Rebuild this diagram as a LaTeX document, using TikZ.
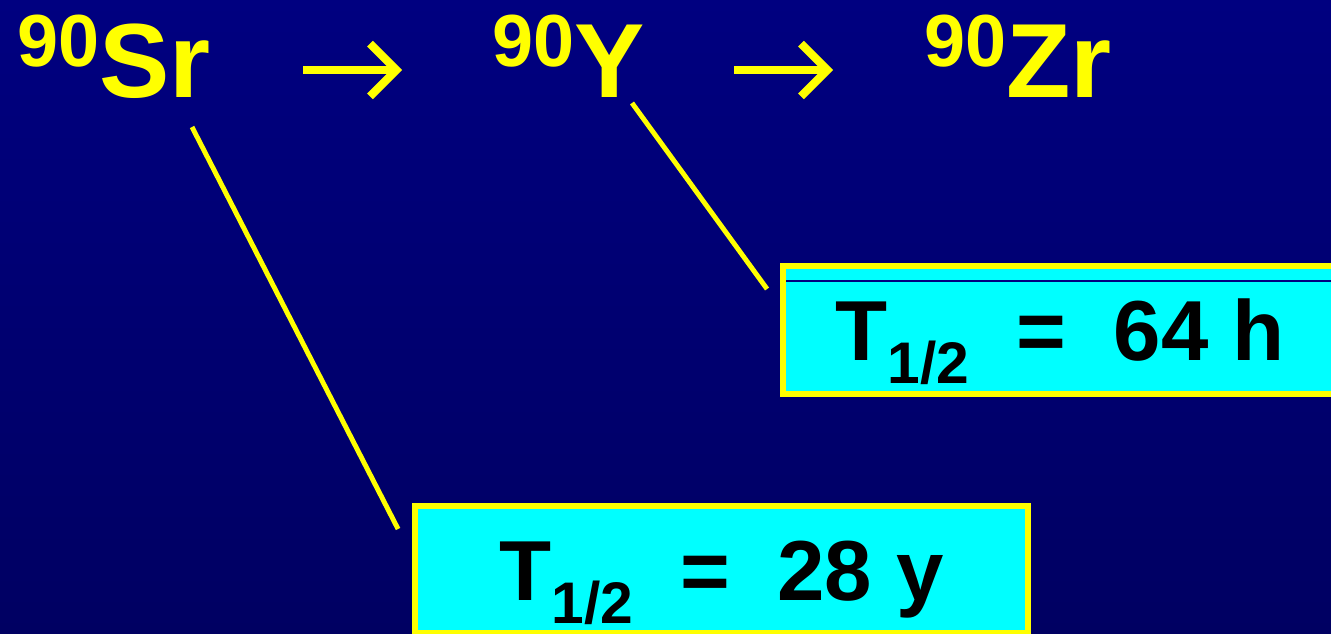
\documentclass[tikz,border=0pt]{standalone}
\usepackage{fontspec}
\setmainfont{Liberation Sans}
\usepackage{tikz}
\usetikzlibrary{arrows.meta}
\definecolor{slidebg}{RGB}{0,0,128}
\definecolor{slidebgdark}{RGB}{0,0,98}
\definecolor{labelyellow}{RGB}{255,255,0}
\definecolor{boxcyan}{RGB}{0,255,255}
\newcommand{\nuc}[2]{{\fontsize{42pt}{42pt}\selectfont\raisebox{17.5pt}{#1}}#2}
\newcommand{\halflife}[1]{T\raisebox{-13pt}{\fontsize{33.4pt}{34pt}\selectfont 1/2}~~=~~#1}

\begin{document}
\begin{tikzpicture}[x=0.02cm, y=-0.02cm,
  nuclide/.style={anchor=base west, inner sep=0pt, text=labelyellow, font=\fontsize{60pt}{60pt}\selectfont\bfseries},
  decay/.style={draw=labelyellow, line width=4.6pt, -{Straight Barb[length=15pt, width=30pt]}},
  leader/.style={draw=labelyellow, line width=2.8pt},
  halfbox/.style={draw=labelyellow, fill=boxcyan, line width=3.4pt, inner sep=0pt, outer sep=0pt,
    text height=35.1pt, text depth=0pt, font=\fontsize{48.5pt}{49pt}\selectfont\bfseries}]
\clip (0,0) rectangle (1331,633);
\shade[top color=slidebg, bottom color=slidebgdark] (0,0) rectangle (1331,633);

% decay chain
\node[nuclide] (sr) at (17,97)  {\nuc{90}{Sr}};
\node[nuclide] (y)  at (492,97) {\nuc{90}{Y}};
\node[nuclide] (zr) at (924,97) {\nuc{90}{Zr}};
\draw[decay] ([shift={(286,-27)}]sr.base west) -- ([shift={(-90,-27)}]y.base west);
\draw[decay] ([shift={(242,-27)}]y.base west) -- ([shift={(-91,-27)}]zr.base west);

% half-lives
\node[halfbox, minimum width=11.08cm, minimum height=2.56cm] (t64) at (1060,330) {\halflife{64~h}};
\node[halfbox, minimum width=12.26cm, minimum height=2.54cm] (t28) at (721.5,569.5) {\halflife{28~y}};
\draw[slidebg, line width=0.6pt] ([shift={(3,15)}]t64.north west) -- ([shift={(0,15)}]t64.north east);

\draw[leader] ([shift={(175,30)}]sr.base west) -- ([shift={(-17,23)}]t28.north west);
\draw[leader] ([shift={(140,6)}]y.base west) -- ([shift={(-16,23)}]t64.north west);
\end{tikzpicture}
\end{document}
